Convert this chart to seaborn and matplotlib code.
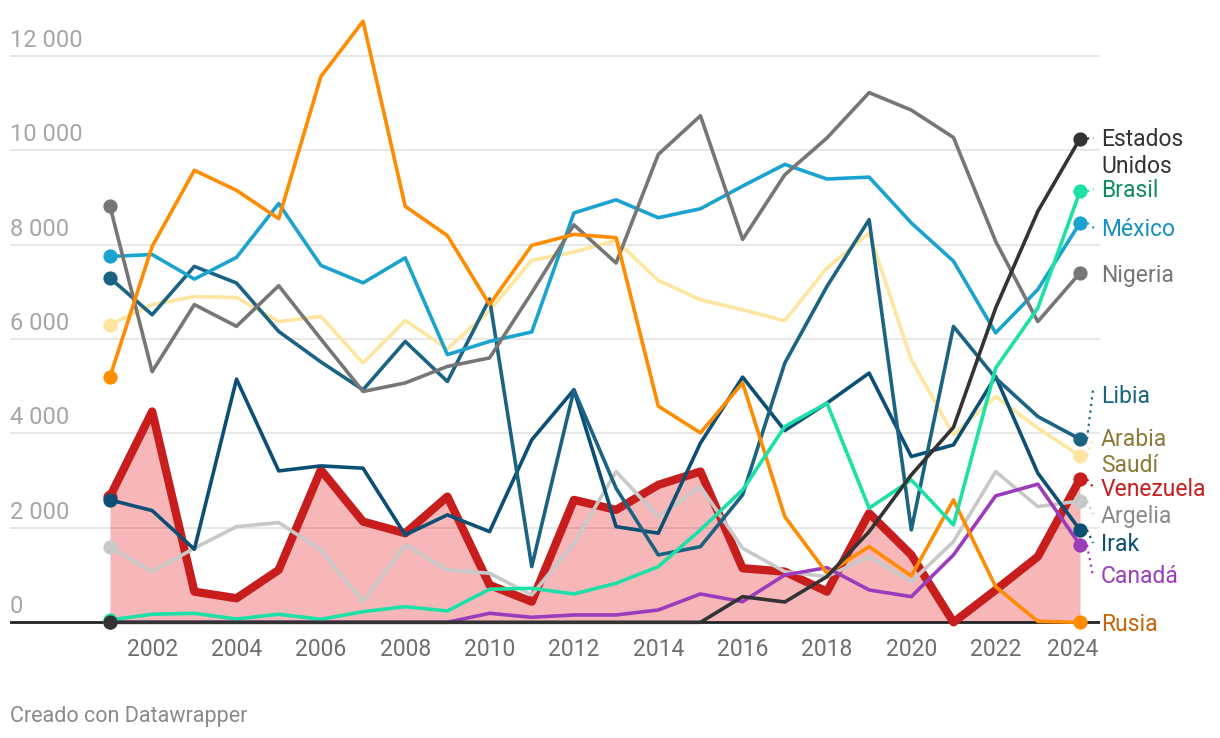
import matplotlib
matplotlib.use('Agg')
import matplotlib.pyplot as plt
import matplotlib.transforms as mtransforms
import numpy as np
import pandas as pd
import seaborn as sns

# ---------------- data ----------------
years = list(range(2001, 2025))
estados_unidos = [0]*15 + [543, 430, 967, 1921, 3123, 4130, 6657, 8705, 10246]
brasil = [50, 170, 190, 70, 170, 64, 225, 331, 240, 700, 721, 600, 827, 1179, 1957, 2805,
          4147, 4643, 2417, 3017, 2063, 5385, 6657, 9129]
mexico = [7750, 7790, 7270, 7730, 8870, 7560, 7190, 7720, 5670, 5950, 6150, 8670, 8950, 8570,
          8760, 9240, 9700, 9390, 9430, 8460, 7650, 6130, 7050, 8460]
nigeria = [8810, 5310, 6730, 6270, 7130, 6000, 4890, 5070, 5420, 5600, 6980, 8420, 7610, 9910,
           10730, 8110, 9480, 10260, 11220, 10850, 10270, 8070, 6370, 7400]
libia = [7293, 6515, 7539, 7187, 6161, 5515, 4925, 5949, 5101, 6848, 1179, 4925, 2840, 1427,
         1603, 2699, 5491, 7115, 8529, 1957, 6267, 5173, 4359, 3880]
arabia_saudi = [6303, 6730, 6900, 6880, 6370, 6480, 5491, 6394, 5788, 6600, 7666, 7844, 8090,
                7242, 6833, 6620, 6388, 7505, 8247, 5561, 3971, 4783, 4113, 3526]
venezuela = [2663, 4465, 649, 509, 1109, 3229, 2133, 1887, 2663, 791, 437, 2593, 2381, 2911,
             3193, 1145, 1073, 649, 2311, 1427, 0, 685, 1391, 3032]
argelia = [1590, 1073, 1569, 2027, 2112, 1533, 437, 1639, 1109, 1039, 579, 1675, 3193, 2239,
           2875, 1569, 1073, 967, 1391, 861, 1709, 3193, 2451, 2572]
irak = [2593, 2366, 1548, 5151, 3207, 3313, 3264, 1851, 2275, 1921, 3865, 4925, 2027, 1887,
        3795, 5194, 4062, 4643, 5279, 3511, 3759, 5207, 3159, 1957]
canada = [0]*9 + [191, 106, 155, 155, 261, 600, 437, 1003, 1158, 685, 543, 1427, 2678, 2926, 1639]
rusia = [5200, 7963, 9574, 9150, 8550, 11560, 12733, 8811, 8190, 6730, 7985, 8217, 8148, 4580,
         4013, 5070, 2239, 1039, 1603, 982, 2593, 755, 20, 0]

countries = ['Argelia', 'Arabia Saudí', 'Canadá', 'Irak', 'Libia', 'México', 'Nigeria',
             'Rusia', 'Brasil', 'Estados Unidos']
values = {
    'Estados Unidos': estados_unidos, 'Brasil': brasil, 'México': mexico, 'Nigeria': nigeria,
    'Libia': libia, 'Arabia Saudí': arabia_saudi, 'Argelia': argelia, 'Irak': irak,
    'Canadá': canada, 'Rusia': rusia,
}
line_colors = {
    'Estados Unidos': '#333333', 'Brasil': '#1de0a6', 'México': '#1ba3cf', 'Nigeria': '#767676',
    'Libia': '#1b6382', 'Arabia Saudí': '#fee5a0', 'Argelia': '#c8c8c8', 'Irak': '#0b4f75',
    'Canadá': '#9b3dbb', 'Rusia': '#ff8c00', 'Venezuela': '#c71e1d',
}
label_colors = {
    'Estados Unidos': '#333333', 'Brasil': '#0e8c5f', 'México': '#1590bf', 'Nigeria': '#767676',
    'Libia': '#1b6382', 'Arabia Saudí': '#8c7a38', 'Argelia': '#8a8a8a', 'Irak': '#0b4f75',
    'Canadá': '#9b3dbb', 'Rusia': '#c4650a', 'Venezuela': '#c71e1d',
}
y_ticks = [2000, 4000, 6000, 8000, 10000, 12000]
y_tick_labels = ['2 000', '4 000', '6 000', '8 000', '10 000', '12 000']
x_ticks = list(range(2002, 2025, 2))

# ---------------- layout ----------------
sns.set_style('white')
plt.rcParams['font.family'] = ['Roboto', 'DejaVu Sans']

W, H = 1220, 738
fig = plt.figure(figsize=(W / 100, H / 100), dpi=100)
ax_l, ax_r, ax_t, ax_b = 10, 1100, 15, 630
ax = fig.add_axes([ax_l / W, 1 - ax_b / H, (ax_r - ax_l) / W, (ax_b - ax_t) / H])
x0px, x1px = 110, 1080
ppy = (x1px - x0px) / 23
ax.set_xlim(2001 - (x0px - ax_l) / ppy, 2024 + (ax_r - x1px) / ppy)
zero_px, top_px = 622.3, 55.8
ppu = (zero_px - top_px) / 12000
ax.set_ylim(-(ax_b - zero_px) / ppu, (zero_px - ax_t) / ppu)

px = mtransforms.Affine2D().scale(1 / W, -1 / H).translate(0, 1) + fig.transFigure

for s in ax.spines.values():
    s.set_visible(False)
ax.set_axisbelow('line')
ax.set_yticks(y_ticks)
ax.set_yticklabels([])
ax.grid(axis='y', color='black', alpha=0.1, lw=1.3)
ax.grid(axis='x', visible=False)
ax.set_xticks(x_ticks)
ax.set_xticklabels([str(t) for t in x_ticks])
ax.tick_params(axis='x', length=0, pad=5.5, labelsize=16.5, labelcolor='#6e6e6e')
ax.tick_params(axis='y', length=0)

ytrans = mtransforms.offset_copy(ax.get_yaxis_transform(), fig=fig, y=9, units='dots')
for v, lab in zip([0] + y_ticks, ['0'] + y_tick_labels):
    ax.text(0, v, lab, transform=ytrans, ha='left', va='baseline', fontsize=17, color='#a6a6a6')

# baseline
ax.axhline(0, color='#222222', lw=2, zorder=1.8)

# Venezuela fill + line
ax.fill_between(years, venezuela, 0, color='#f7b7b9', lw=0, zorder=1)
dfv = pd.DataFrame({'year': years, 'value': venezuela})
sns.lineplot(data=dfv, x='year', y='value', ax=ax, color=line_colors['Venezuela'], lw=6,
             zorder=2.2, legend=False)
ends = dfv.iloc[[0, -1]]
ax.scatter(ends['year'], ends['value'], s=105, color=line_colors['Venezuela'], zorder=2.3,
           lw=0)

for i, c in enumerate(countries):
    df = pd.DataFrame({'year': years, 'value': values[c]})
    sns.lineplot(data=df, x='year', y='value', ax=ax, color=line_colors[c], lw=2.6,
                 zorder=3 + i * 0.1, legend=False)
    e = df.iloc[[0, -1]]
    ax.scatter(e['year'], e['value'], s=105, color=line_colors[c], zorder=3.05 + i * 0.1, lw=0)

ax.set_xlabel('')
ax.set_ylabel('')

# nudge the last year label left, as in the reference
last = ax.get_xticklabels()[-1]
last.set_transform(last.get_transform() + mtransforms.ScaledTranslation(-7 / 100, 0, fig.dpi_scale_trans))

# ---------------- right labels ----------------
labels = [
    ('Estados Unidos', ['Estados', 'Unidos'], [146, 172.7], (1094, 138)),
    ('Brasil', ['Brasil'], [197.3], (1094, 189)),
    ('México', ['México'], [235.7], (1094, 228)),
    ('Nigeria', ['Nigeria'], [281.7], None),
    ('Libia', ['Libia'], [402.7], (1093, 390)),
    ('Arabia Saudí', ['Arabia', 'Saudí'], [446.5, 472.5], (1093, 438)),
    ('Venezuela', ['Venezuela'], [496], (1093, 487)),
    ('Argelia', ['Argelia'], [523], (1093, 514)),
    ('Irak', ['Irak'], [551], (1093, 543)),
    ('Canadá', ['Canadá'], [583.3], (1093, 576)),
    ('Rusia', ['Rusia'], [631], None),
]
all_vals = dict(values)
all_vals['Venezuela'] = venezuela
fig.canvas.draw()
for name, lines, bases, conn in labels:
    for t, b in zip(lines, bases):
        fig.text(1101, b, t, transform=px, ha='left', va='baseline', fontsize=16.5,
                 color=label_colors[name])
    if conn is not None:
        X, Y = ax.transData.transform((2024, all_vals[name][-1]))
        sx, sy = X + 7, H - Y
        fig.add_artist(plt.Line2D([sx, conn[0]], [sy, conn[1]], transform=px,
                                  color=line_colors[name], lw=1.6, ls=(0, (1, 2)), zorder=2))

fig.text(10, 721.7, 'Creado con Datawrapper', transform=px, ha='left', va='baseline',
         fontsize=15.5, color='#8a8a8a')

fig.savefig('out.png', dpi=100)
